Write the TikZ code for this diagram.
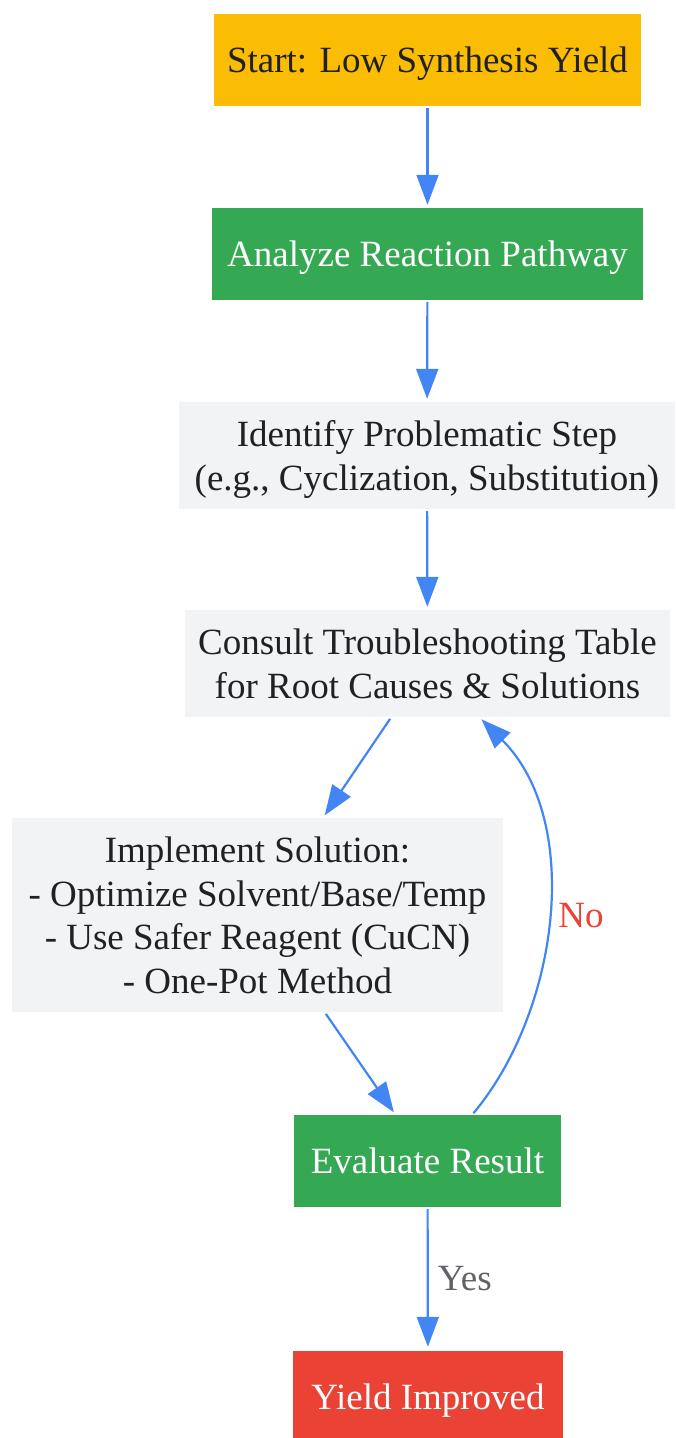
\documentclass[tikz,border=0pt]{standalone}
\usepackage{fontspec}
\setmainfont{Liberation Serif}
\usepackage{xcolor}
\definecolor{gyellow}{HTML}{FBBC04}
\definecolor{ggreen}{HTML}{34A853}
\definecolor{gred}{HTML}{EA4335}
\definecolor{ggray}{HTML}{F1F3F4}
\definecolor{gblue}{HTML}{4285F4}
\definecolor{gtext}{HTML}{202124}
\definecolor{glabel}{HTML}{5F6368}
\usepackage{tikz}
\usetikzlibrary{arrows.meta}

\begin{document}
\begin{tikzpicture}[
    x=1pt, y=1pt,
    >={Triangle[length=30pt, width=22pt]},
    font=\fontsize{37}{43.5}\selectfont,
    box/.style={rectangle, inner sep=0pt, align=center, text=gtext, text depth=0pt},
    startbox/.style={box, fill=gyellow, minimum width=427pt, minimum height=92pt},
    actbox/.style={box, fill=ggreen, text=white, minimum height=92pt},
    infobox/.style={box, fill=ggray},
    endbox/.style={box, fill=gred, text=white, minimum width=270pt, minimum height=92pt},
    flow/.style={->, draw=gblue, line width=2.2pt, shorten <=2pt, shorten >=3pt}
  ]
  \useasboundingbox (0,0) rectangle (675,-1438);

  % Main column
  \node (start) at (427.5,-60) [startbox] {Start: Low Synthesis Yield};
  \node (analyze) at (427.5,-254) [actbox, minimum width=431pt] {Analyze Reaction Pathway};
  \node (identify) at (427,-455.5) [infobox, minimum width=496pt, minimum height=107pt] {Identify Problematic Step\\(e.g., Cyclization, Substitution)};
  \node (consult) at (427.5,-663.5) [infobox, minimum width=485pt, minimum height=107pt] {Consult Troubleshooting Table\\for Root Causes \& Solutions};

  % Solution and check
  \node (implement) at (257.5,-915) [infobox, minimum width=491pt, minimum height=194pt] {Implement Solution:\\- Optimize Solvent/Base/Temp\\- Use Safer Reagent (CuCN)\\- One-Pot Method};
  \node (evaluate) at (427.5,-1161) [actbox, minimum width=267pt] {Evaluate Result};
  \node (improved) at (428,-1397) [endbox] {Yield Improved};

  % Edges
  \draw[flow] (start) -- (analyze);
  \draw[flow] (analyze) -- (identify);
  \draw[flow] (identify) -- (consult);
  \draw[flow] (consult) -- (implement);
  \draw[flow] (implement) -- (evaluate);
  \draw[flow] (evaluate.46) .. controls +(87,104) and +(104,-104) .. (consult.-46)
    node (no) [pos=0.5, anchor=west, inner sep=0pt, xshift=10pt, text=gred] {No};
  \draw[flow, shorten >=4pt] (evaluate) -- (improved)
    node (yes) [pos=0.5, anchor=west, inner sep=0pt, xshift=9pt, text=glabel] {Yes};

\end{tikzpicture}
\end{document}
